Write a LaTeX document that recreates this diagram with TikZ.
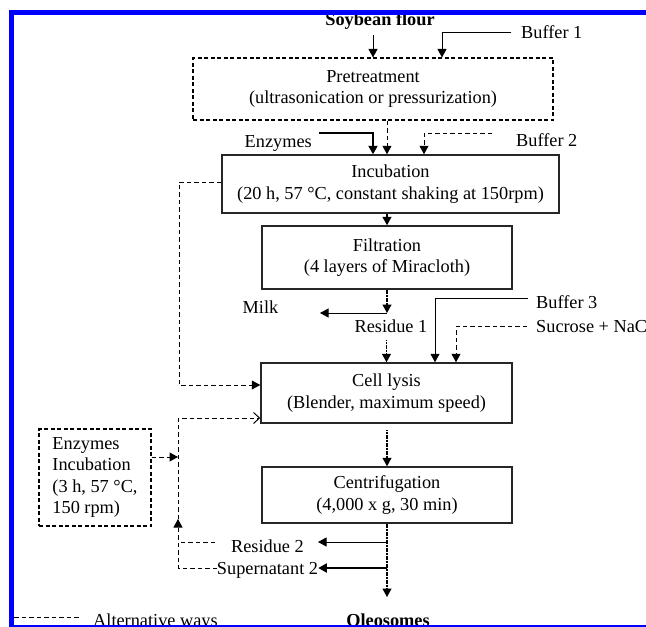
\documentclass[tikz,border=0pt]{standalone}
\usepackage{fontspec}
\setmainfont{Liberation Serif}
\usetikzlibrary{arrows.meta,calc}
\begin{document}
\begin{tikzpicture}[x=1pt,y=-1pt,
  every node/.style={font=\fontsize{18.3}{21.3}\selectfont},
  bf/.style={font=\fontsize{18.3}{21.3}\selectfont\bfseries},
  box/.style={draw=black!85, line width=1.5pt, align=center, inner sep=0pt},
  dbox/.style={draw=black, line width=1.1pt, dash pattern=on 4pt off 2.5pt, inner sep=0pt},
  lbl/.style={inner sep=0pt},
  tip/.style={-{Triangle[length=8.5pt,width=9pt]}},
  otip/.style={-{Straight Barb[length=6pt,width=11pt]}},
  sl/.style={line width=1pt},
  dl/.style={line width=1pt, dash pattern=on 4.5pt off 3pt},
  fl/.style={line width=1.3pt, dash pattern=on 1.2pt off 0.4pt},
]
\useasboundingbox (0,0) rectangle (646,627);
\fill[white] (0,0) rectangle (646,627);

% nodes
\node[lbl,bf,anchor=base] (soy) at (380,25.5) {Soybean flour};
\node[dbox, minimum width=360, minimum height=62, align=center] (pre) at (373,89) {Pretreatment\\(ultrasonication or pressurization)};
\node[lbl,anchor=base west] (buf1) at (521,38.5) {Buffer 1};
\node[box, minimum width=337, minimum height=58] (inc) at (390.5,184) {Incubation\\(20 h, 57 °C, constant shaking at 150rpm)};
\node[lbl,anchor=base east] (enz) at (312,147) {Enzymes};
\node[lbl,anchor=base west] (buf2) at (516,146) {Buffer 2};
\node[box, minimum width=250, minimum height=63] (fil) at (387,257.5) {Filtration\\(4 layers of Miracloth)};
\node[lbl,anchor=base] (milk) at (260.5,313) {Milk};
\node[lbl,anchor=base] (res1) at (391,332) {Residue 1};
\node[lbl,anchor=base west] (buf3) at (536,308) {Buffer 3};
\node[lbl,anchor=base west] (suc) at (536,332) {Sucrose + NaC};
\node[box, minimum width=251, minimum height=60] (cell) at (386.5,393) {Cell lysis\\(Blender, maximum speed)};
\node[box, minimum width=250, minimum height=56] (cen) at (387,495) {Centrifugation\\(4,000 x g, 30 min)};
\node[dbox, minimum width=112, minimum height=97, align=left] (einc) at (95,477.5) {Enzymes\\Incubation\\(3 h, 57 °C,\\150 rpm)};
\node[lbl,anchor=base] (res2) at (267.5,552) {Residue 2};
\node[lbl,anchor=base] (sup2) at (267.5,574) {Supernatant 2};
\node[lbl,bf,anchor=base] (ole) at (388,626) {Oleosomes};
\node[lbl,anchor=base west] (alt) at (93,626) {Alternative ways};

% free-end coordinates
\coordinate (soyend) at (373,35);
\coordinate (b1a) at (511,32);
\coordinate (b1b) at (442,32);
\coordinate (ena) at (319,133);
\coordinate (b2a) at (492,133);
\coordinate (j1) at (387,313);
\coordinate (milkend) at (320,313);
\coordinate (b3a) at (528,298);
\coordinate (sua) at (527,326);
\coordinate (j2) at (387,542);
\coordinate (j3) at (387,568);
\coordinate (r2end) at (318,542);
\coordinate (fbx) at (179,385);
\coordinate (vl) at (178,418);
\coordinate (vup) at (178,519);
\coordinate (r2d) at (215,542);
\coordinate (s2d) at (217,568);

% connectors
\draw[sl,tip] (soyend) -- (soyend |- pre.north);
\draw[sl,tip] (b1a) -- (b1b) -- (b1b |- pre.north);
\draw[dl,tip] (387,0 |- pre.south) -- (387,0 |- inc.north);
\draw[line width=2pt,tip] (ena) -| (373,0 |- inc.north);
\draw[dl,tip] (b2a) -| (424,0 |- inc.north);
\draw[fl,tip] (fil.north |- inc.south) -- (fil.north);
\draw[fl,tip] (fil.south) -- (j1);
\draw[sl,tip] (j1) -- (milkend);
\draw[fl,tip] (cell.north |- 0,340) -- (cell.north);
\draw[sl,tip] (b3a) -| (435,0 |- cell.north);
\draw[dl,tip] (sua) -| (456,0 |- cell.north);
\draw[fl,tip] (cen.north |- 0,430) -- (cen.north);
\draw[fl,tip] (cen.south) -- (cen.south |- 0,597);
\draw[sl,tip] (j2) -- (r2end);
\draw[line width=1.8pt,tip] (j3) -- (sup2.east |- j3);

% alternative ways (dashed)
\draw[dl,tip] (inc.west |- 0,182) -| (fbx) -- (cell.west |- fbx);
\draw[dl] (r2d) -- (vl |- r2d);
\draw[dl,tip] (s2d) -- (vl |- s2d) -- (vup);
\draw[dl,otip] (vup) -- (vl) -- (cell.west |- vl);
\draw[dl,tip] (einc.east |- 0,457) -- (vl |- 0,457);

% legend
\draw[dl] (14,617.5) -- (80,617.5);

% blue frame
\draw[blue, line width=5pt] (11.5,630) -- (11.5,12) -- (646,12);
\draw[blue, line width=5pt] (9,627.5) -- (646,627.5);
\end{tikzpicture}
\end{document}
